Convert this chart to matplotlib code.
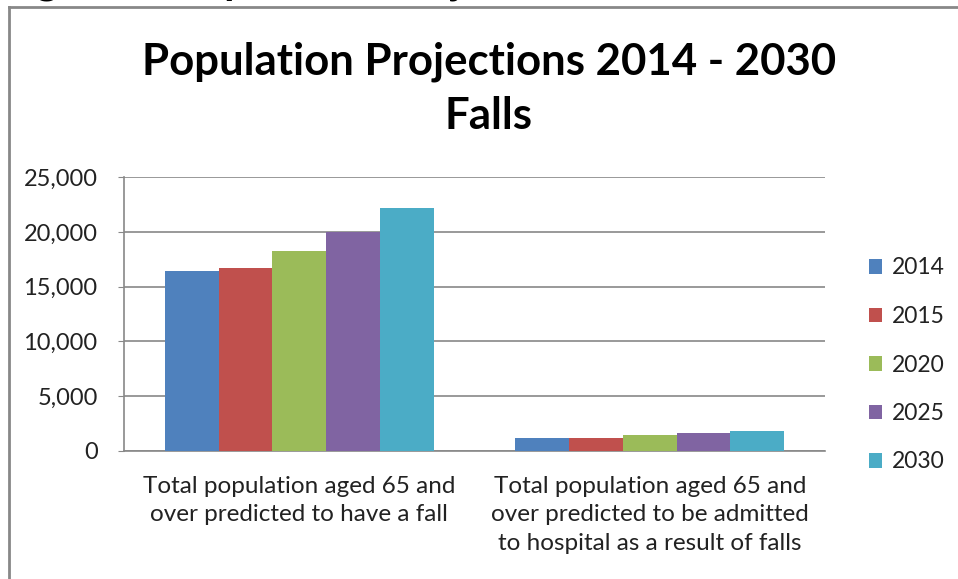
import matplotlib.pyplot as plt
import numpy as np
from matplotlib.lines import Line2D

# Office 2007 style chart: population projections for falls
categories = ["Total population aged 65 and\nover predicted to have a fall",
              "Total population aged 65 and\nover predicted to be admitted\nto hospital as a result of falls"]
years = ["2014", "2015", "2020", "2025", "2030"]
values_2014 = [16400, 1190]
values_2015 = [16700, 1190]
values_2020 = [18250, 1460]
values_2025 = [20000, 1580]
values_2030 = [22200, 1790]
series = [values_2014, values_2015, values_2020, values_2025, values_2030]
colors = ["#4F81BD", "#C0504D", "#9BBB59", "#8064A2", "#4BACC6"]
yticks = [0, 5000, 10000, 15000, 20000, 25000]

plt.rcParams['font.family'] = ['Lato', 'DejaVu Sans']

fig = plt.figure(figsize=(9.58, 5.79), dpi=100)
ax = fig.add_axes([124 / 958, 1 - 450.7 / 579, 701 / 958, 273.2 / 579])

x = np.arange(len(categories))
w = 0.1535
for i, (vals, c) in enumerate(zip(series, colors)):
    ax.bar(x + (i - 2) * w, vals, width=w, color=c, label=years[i], zorder=3)

ax.set_xlim(-0.5, 1.5)
ax.set_ylim(0, 25000)
ax.set_yticks(yticks)
ax.set_yticklabels([f"{v:,}" for v in yticks], fontsize=17, color="#222222")
ax.set_xticks(x)
ax.set_xticklabels(categories, fontsize=17.5, color="#222222", linespacing=1.45)
ax.tick_params(axis='x', length=0, pad=18)
ax.tick_params(axis='y', length=4, color="#888888", pad=15)
ax.grid(axis='y', color="#888888", linewidth=1.2, zorder=0)
for s in ["top", "right"]:
    ax.spines[s].set_visible(False)
for s in ["left", "bottom"]:
    ax.spines[s].set_color("#888888")
    ax.spines[s].set_linewidth(1.2)

leg = fig.legend(loc="center left", bbox_to_anchor=(848 / 958, 1 - 365 / 579),
                 frameon=False, fontsize=16.5, handlelength=0.6, handleheight=0.6,
                 handletextpad=0.4, labelspacing=1.2)
for t in leg.get_texts():
    t.set_color("#222222")

fig.text(489 / 958, 1 - 62 / 579, "Population Projections 2014 - 2030",
         ha="center", va="center", fontsize=31.5, fontweight="bold")
fig.text(489 / 958, 1 - 116 / 579, "Falls",
         ha="center", va="center", fontsize=31.5, fontweight="bold")

# caption above the chart, cut off by the image edge
fig.text(2 / 958, 1 + 7 / 579, "Figure 9: Population Projections - Falls",
         ha="left", va="baseline", fontsize=30, fontweight="bold")

# chart frame (only top and left edges fall inside the picture)
fig.add_artist(Line2D([9 / 958, 9 / 958], [0, 1 - 6.5 / 579], color="#888888", linewidth=2))
fig.add_artist(Line2D([9 / 958, 1], [1 - 6.5 / 579, 1 - 6.5 / 579], color="#888888", linewidth=2))

fig.savefig("out.png", dpi=100)
